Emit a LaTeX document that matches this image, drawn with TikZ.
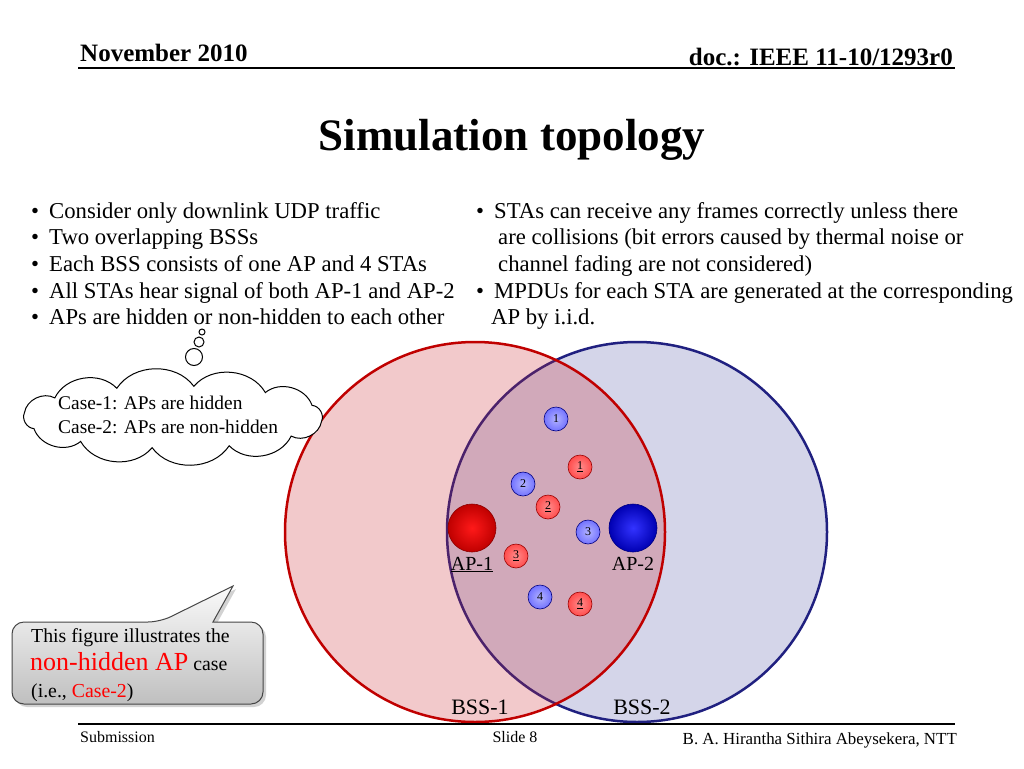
\documentclass[tikz,border=0pt]{standalone}
\usepackage{fontspec}
\setmainfont{Liberation Serif}
\usetikzlibrary{shadows,calc}
\definecolor{bssred}{HTML}{C00000}
\definecolor{bssblue}{HTML}{202080}
\definecolor{redfill}{HTML}{CC2830}
\definecolor{bluefill}{HTML}{D4D5E9}
\definecolor{txtred}{HTML}{FF0000}
\tikzset{
  txt/.style={inner sep=0pt, font=\fontsize{22.7}{26}\selectfont},
  bssbox/.style={circle, minimum size=380pt, inner sep=0pt},
  sta/.style={circle, minimum size=24pt, inner sep=0pt, font=\fontsize{12}{14}\selectfont},
  stablue/.style={sta, draw=blue!50!black, line width=0.6pt, inner color=blue!30!white, outer color=blue!55!white},
  stared/.style={sta, draw=red!60!black, line width=0.6pt, inner color=red!45!white, outer color=red!70!white},
  apball/.style={circle, minimum size=48pt, inner sep=0pt},
  lbl/.style={inner sep=0pt, font=\fontsize{20}{24}\selectfont},
  bubble/.style={circle, draw, line width=1pt, fill=white, inner sep=0pt},
  puff/.style={bend left=55},
}
\begin{document}
\begin{tikzpicture}[x=1pt,y=-1pt]
\useasboundingbox (0,0) rectangle (1024,768);
\fill[white] (0,0) rectangle (1024,768);

% header
\node[txt, anchor=base west, font=\fontsize{25}{28}\selectfont\bfseries] (date) at (80,61) {November 2010};
\node[txt, anchor=base east, font=\fontsize{25}{28}\selectfont\bfseries] (doc) at (953,66) {doc.: IEEE 11-10/1293r0};
\coordinate (hl) at (78,68);
\coordinate (hr) at (955,68);
\draw[line width=1.5pt] (hl) -- (hr);

% title
\node[txt, anchor=base, font=\fontsize{45}{50}\selectfont\bfseries] (title) at (512,150) {Simulation topology};

% left bullets
\foreach \i/\t in {0/Consider only downlink UDP traffic, 1/Two overlapping BSSs, 2/Each BSS consists of one AP and 4 STAs, 3/All STAs hear signal of both AP-1 and AP-2, 4/APs are hidden or non-hidden to each other}{
  \node[txt, anchor=base west] (lb\i) at (31,218+26.7*\i) {•};
  \node[txt, anchor=base west] (lt\i) at (49,218+26.7*\i) {\t};
}
% right bullets
\node[txt, anchor=base west] (rb0) at (476,218) {•};
\node[txt, anchor=base west] (rt0) at (494,218) {STAs can receive any frames correctly unless there};
\node[txt, anchor=base west] (rt1) at (498,244.7) {are collisions (bit errors caused by thermal noise or};
\node[txt, anchor=base west] (rt2) at (498,271.4) {channel fading are not considered)};
\node[txt, anchor=base west] (rb3) at (476,298.1) {•};
\node[txt, anchor=base west] (rt3) at (494,298.1) {MPDUs for each STA are generated at the corresponding};
\node[txt, anchor=base west] (rt4) at (491,324.8) {AP by i.i.d.};

% BSS circles
\node[bssbox, fill=bluefill, draw=bssblue, line width=2.5pt] (bss2) at (637,532) {};
\node[bssbox, fill=redfill, fill opacity=0.25] (bss1f) at (475,532) {};
\node[bssbox, draw=bssred, line width=2.5pt] (bss1) at (475,532) {};

% thought cloud
\coordinate (cc) at (173,417);
\foreach \a [count=\i] in {8,38,68,98,128,158,188,218,248,278,308,338}
  \coordinate (p\i) at ($(cc)+(\a:150 and 31)$);
\draw[line width=1pt, fill=white] (p1) to[puff] (p2) to[puff] (p3) to[puff] (p4) to[puff] (p5) to[puff] (p6) to[puff] (p7) to[puff] (p8) to[puff] (p9) to[puff] (p10) to[puff] (p11) to[puff] (p12) to[puff] (p1) -- cycle;
\node[bubble, minimum size=17pt] (bub1) at (194,357) {};
\node[bubble, minimum size=10pt] (bub2) at (199,342) {};
\node[bubble, minimum size=6pt] (bub3) at (202,332) {};
\node[txt, anchor=base west, font=\fontsize{19.4}{22}\selectfont] (case1) at (58,409) {Case-1: APs are hidden};
\node[txt, anchor=base west, font=\fontsize{19.4}{22}\selectfont] (case2) at (58,433) {Case-2: APs are non-hidden};

% APs
\node[apball, draw=red!55!black, line width=0.6pt, inner color=red!90!white, outer color=red!75!black] (ap1) at (472,528) {};
\node[apball, draw=blue!50!black, line width=0.6pt, inner color=blue!80!white, outer color=blue!70!black] (ap2) at (633,528) {};
\node[lbl, anchor=base] (ap1l) at (472,570) {\underline{AP-1}};
\node[lbl, anchor=base] (ap2l) at (633,570) {AP-2};

% STAs
\node[stablue] (b1) at (556,419) {1};
\node[stared] (r1) at (580,467) {\underline{1}};
\node[stablue] (b2) at (523,484) {2};
\node[stared] (r2) at (548,507) {\underline{2}};
\node[stablue] (b3) at (588,532) {3};
\node[stared] (r3) at (516,556) {\underline{3}};
\node[stablue] (b4) at (540,597) {4};
\node[stared] (r4) at (580,604) {\underline{4}};

% BSS labels
\node[lbl, anchor=base, font=\fontsize{22}{26}\selectfont] (bss1l) at (480,714) {BSS-1};
\node[lbl, anchor=base, font=\fontsize{22}{26}\selectfont] (bss2l) at (642,714) {BSS-2};

% callout
\path[draw=gray!55!black, line width=1pt, top color=gray!4, bottom color=gray!50,
      drop shadow={shadow xshift=3pt, shadow yshift=-3pt, opacity=0.35}]
  (233,586) -- (213,622) [rounded corners=12pt] -- (263,622) -- (263,704) -- (12,704) -- (12,622) -- (160,622) [sharp corners] -- cycle;
\node[txt, anchor=base west, font=\fontsize{19.8}{22}\selectfont] (c1) at (31,642) {This figure illustrates the};
\node[txt, anchor=base west, font=\fontsize{19.8}{22}\selectfont] (c2) at (30,670) {{\fontsize{26}{30}\selectfont\color{txtred}non-hidden AP} case};
\node[txt, anchor=base west, font=\fontsize{19.8}{22}\selectfont] (c3) at (31,697) {(i.e., \textcolor{txtred}{Case-2})};

% footer
\coordinate (fl) at (78,724);
\coordinate (fr) at (955,724);
\draw[line width=1.2pt] (fl) -- (fr);
\node[txt, anchor=base west, font=\fontsize{16}{18}\selectfont] (sub) at (80,742) {Submission};
\node[txt, anchor=base, font=\fontsize{16}{18}\selectfont] (slide) at (515,742) {Slide 8};
\node[txt, anchor=base east, font=\fontsize{16.9}{18}\selectfont] (auth) at (957,744) {B. A. Hirantha Sithira Abeysekera, NTT};
\end{tikzpicture}
\end{document}
